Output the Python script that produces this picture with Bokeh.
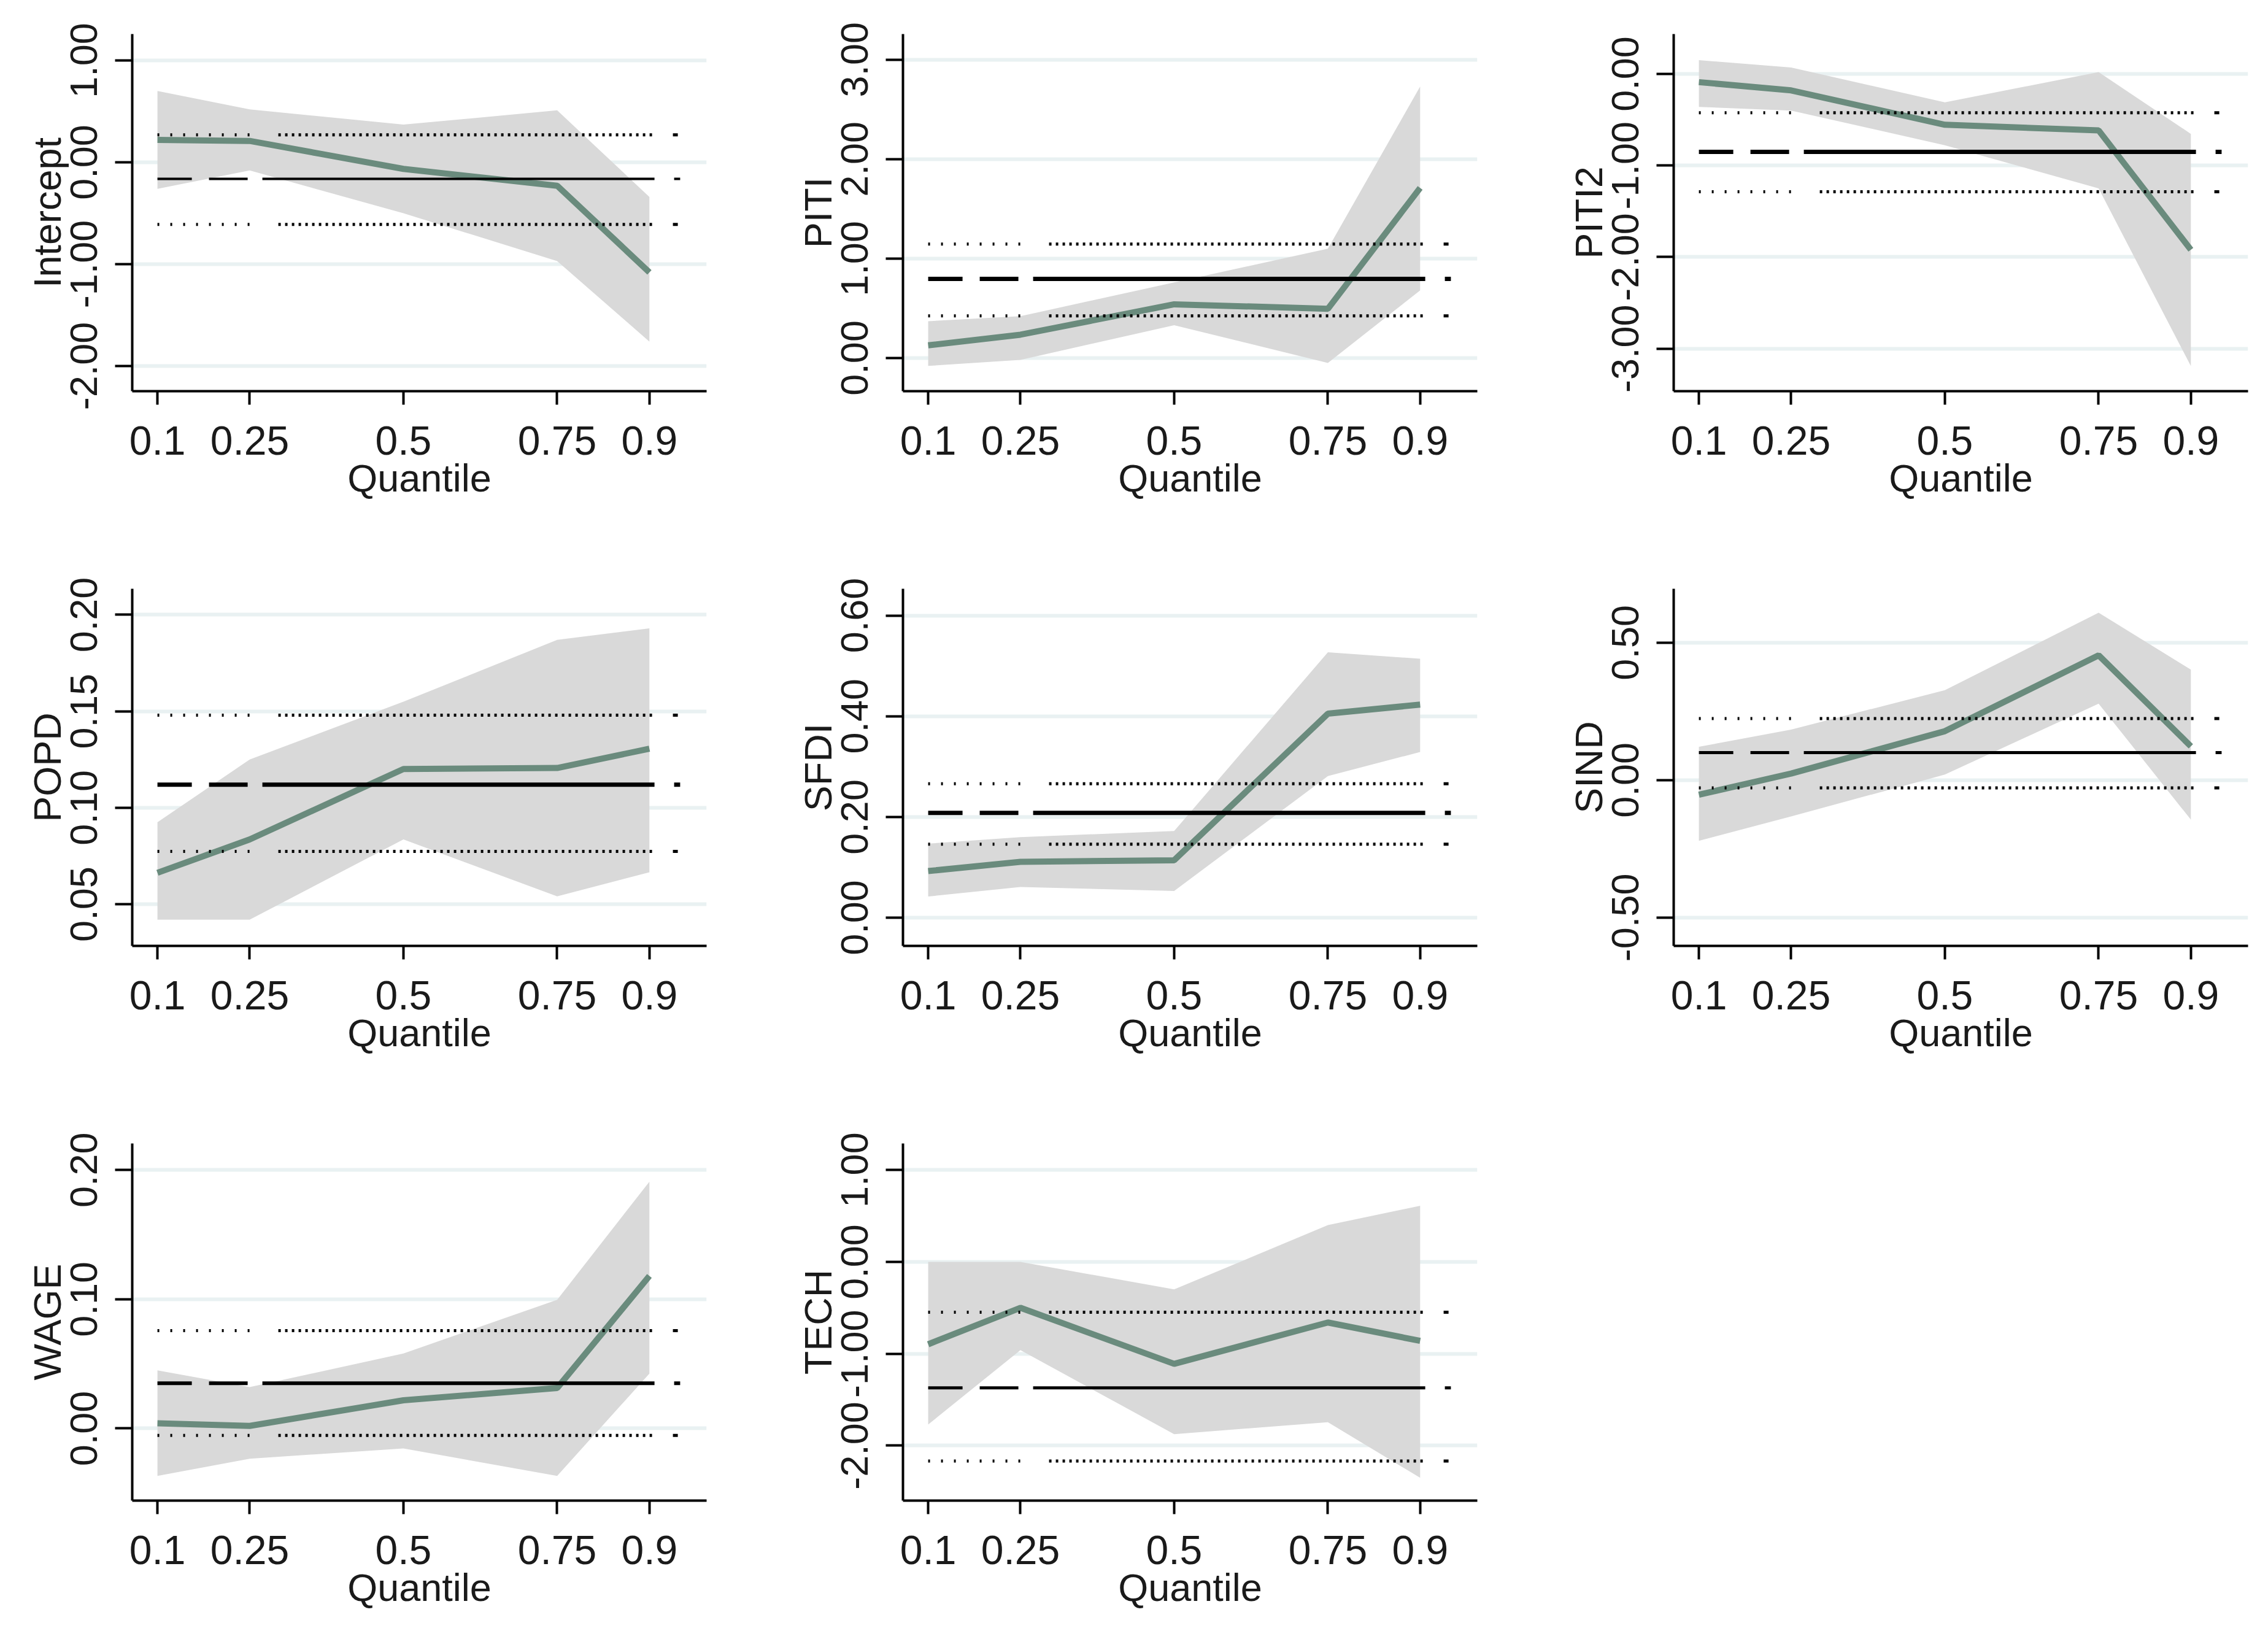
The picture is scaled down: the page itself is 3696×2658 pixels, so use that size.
from bokeh.plotting import figure
from bokeh.models import FixedTicker, NumeralTickFormatter, Range1d
from bokeh.layouts import gridplot
from bokeh.embed import file_html
from bokeh.resources import INLINE

# ---------------- data ----------------
quantiles = [0.1, 0.25, 0.5, 0.75, 0.9]
quantile_labels = ["0.1", "0.25", "0.5", "0.75", "0.9"]
ols_span = [0.1, 0.95]

intercept_qr = [0.22, 0.21, -0.065, -0.23, -1.08]
intercept_lo = [-0.26, -0.08, -0.50, -0.97, -1.76]
intercept_hi = [0.70, 0.52, 0.37, 0.51, -0.34]
intercept_ols = [-0.163, -0.61, 0.27]  # estimate, lower, upper

piti_qr = [0.127, 0.234, 0.54, 0.495, 1.71]
piti_lo = [-0.08, -0.02, 0.33, -0.05, 0.68]
piti_hi = [0.37, 0.42, 0.76, 1.10, 2.73]
piti_ols = [0.795, 0.424, 1.146]

piti2_qr = [-0.09, -0.18, -0.555, -0.617, -1.92]
piti2_lo = [-0.36, -0.40, -0.78, -1.25, -3.19]
piti2_hi = [0.15, 0.07, -0.31, 0.02, -0.655]
piti2_ols = [-0.852, -1.287, -0.424]

popd_qr = [0.0663, 0.0836, 0.1201, 0.1206, 0.1306]
popd_lo = [0.042, 0.042, 0.0836, 0.0541, 0.0666]
popd_hi = [0.0925, 0.125, 0.155, 0.187, 0.193]
popd_ols = [0.112, 0.0774, 0.148]

sfdi_qr = [0.0926, 0.111, 0.114, 0.405, 0.423]
sfdi_lo = [0.042, 0.061, 0.053, 0.281, 0.329]
sfdi_hi = [0.147, 0.160, 0.172, 0.527, 0.514]
sfdi_ols = [0.208, 0.146, 0.266]

sind_qr = [-0.053, 0.024, 0.178, 0.454, 0.123]
sind_lo = [-0.221, -0.132, 0.02, 0.278, -0.144]
sind_hi = [0.121, 0.184, 0.327, 0.609, 0.402]
sind_ols = [0.10, -0.028, 0.224]

wage_qr = [0.004, 0.002, 0.0218, 0.0313, 0.118]
wage_lo = [-0.0367, -0.0234, -0.0154, -0.0367, 0.0425]
wage_hi = [0.045, 0.032, 0.058, 0.0996, 0.191]
wage_ols = [0.035, -0.0053, 0.0757]

tech_qr = [-0.897, -0.50, -1.11, -0.66, -0.86]
tech_lo = [-1.77, -0.96, -1.875, -1.745, -2.35]
tech_hi = [0.0, 0.0, -0.30, 0.40, 0.61]
tech_ols = [-1.371, -2.167, -0.549]

y_ranges = {
    "Intercept": (-2.247, 1.259), "PITI": (-0.334, 3.258), "PITI2": (-3.464, 0.435),
    "POPD": (0.0284, 0.2135), "SFDI": (-0.056, 0.653), "SIND": (-0.603, 0.696),
    "WAGE": (-0.0558, 0.2205), "TECH": (-2.598, 1.288),
}
y_ticks = {
    "Intercept": [-2, -1, 0, 1], "PITI": [0, 1, 2, 3], "PITI2": [-3, -2, -1, 0],
    "POPD": [0.05, 0.10, 0.15, 0.20], "SFDI": [0.0, 0.2, 0.4, 0.6], "SIND": [-0.5, 0.0, 0.5],
    "WAGE": [0.0, 0.1, 0.2], "TECH": [-2, -1, 0, 1],
}

# ---------------- style ----------------
FONT = "Liberation Sans"
TXT = "#1a1a1a"
BAND = "#d9d9d9"
GREEN = "#6a8b7d"
GRID = "#e9f1f2"

OLS_DASH = "56 28 63 24 639 32 12 600"
_dots = ["3 18"] * 7 + ["3 47"] + ["4 7"] * 56 + ["0 27", "8 600"]
DOT_DASH = " ".join(_dots)
ols_width = {"Intercept": 4, "PITI": 7, "PITI2": 7, "POPD": 7, "SFDI": 7,
             "SIND": 5, "WAGE": 6, "TECH": 5}

FRAME_W, FRAME_H, TOP = 936, 582, 55
ROW_H = 904


def make_panel(name, qr, lo, hi, ols, border_right, border_bottom):
    p = figure(frame_width=FRAME_W, frame_height=FRAME_H,
               x_range=Range1d(0.059, 0.993), y_range=Range1d(*y_ranges[name]),
               output_backend="svg", toolbar_location=None,
               min_border_left=215, min_border_right=border_right,
               min_border_top=TOP, min_border_bottom=border_bottom)
    p.outline_line_color = None
    p.background_fill_color = "white"
    p.border_fill_color = "white"

    p.xgrid.visible = False
    p.ygrid.ticker = FixedTicker(ticks=y_ticks[name])
    p.ygrid.grid_line_color = GRID
    p.ygrid.grid_line_width = 6

    p.varea(x=quantiles, y1=lo, y2=hi, fill_color=BAND, fill_alpha=1.0)
    p.line(quantiles, qr, line_color=GREEN, line_width=10)

    est, low, up = ols
    p.line(ols_span, [low, low], line_color="black", line_width=5, line_dash=DOT_DASH)
    p.line(ols_span, [up, up], line_color="black", line_width=5, line_dash=DOT_DASH)
    p.line(ols_span, [est, est], line_color="black", line_width=ols_width[name],
           line_dash=OLS_DASH)

    # x axis
    xa = p.xaxis[0]
    xa.ticker = FixedTicker(ticks=quantiles)
    xa.major_label_overrides = {q: s for q, s in zip(quantiles, quantile_labels)}
    xa.minor_tick_line_color = None
    xa.major_tick_in = 0
    xa.major_tick_out = 22
    xa.major_tick_line_width = 4
    xa.axis_line_width = 4
    xa.major_label_text_font = FONT
    xa.major_label_text_font_size = "66px"
    xa.major_label_text_color = TXT
    xa.major_label_standoff = 35
    xa.axis_label = "Quantile"
    xa.axis_label_text_font = FONT
    xa.axis_label_text_font_size = "63px"
    xa.axis_label_text_font_style = "normal"
    xa.axis_label_text_color = TXT
    xa.axis_label_standoff = 0

    # y axis
    ya = p.yaxis[0]
    ya.ticker = FixedTicker(ticks=y_ticks[name])
    ya.formatter = NumeralTickFormatter(format="0.00")
    ya.minor_tick_line_color = None
    ya.major_tick_in = 0
    ya.major_tick_out = 28
    ya.major_tick_line_width = 4
    ya.axis_line_width = 4
    ya.major_label_orientation = "vertical"
    ya.major_label_text_font = FONT
    ya.major_label_text_font_size = "63px"
    ya.major_label_text_color = TXT
    ya.major_label_standoff = 29
    ya.axis_label = name
    ya.axis_label_text_font = FONT
    ya.axis_label_text_font_size = "63px"
    ya.axis_label_text_font_style = "normal"
    ya.axis_label_text_color = TXT
    ya.axis_label_standoff = 1
    return p


B12 = ROW_H - TOP - FRAME_H
B3 = 2642 - 2 * ROW_H - TOP - FRAME_H

p1 = make_panel("Intercept", intercept_qr, intercept_lo, intercept_hi, intercept_ols, 105, B12)
p2 = make_panel("PITI", piti_qr, piti_lo, piti_hi, piti_ols, 105, B12)
p3 = make_panel("PITI2", piti2_qr, piti2_lo, piti2_hi, piti2_ols, 15, B12)
p4 = make_panel("POPD", popd_qr, popd_lo, popd_hi, popd_ols, 105, B12)
p5 = make_panel("SFDI", sfdi_qr, sfdi_lo, sfdi_hi, sfdi_ols, 105, B12)
p6 = make_panel("SIND", sind_qr, sind_lo, sind_hi, sind_ols, 15, B12)
p7 = make_panel("WAGE", wage_qr, wage_lo, wage_hi, wage_ols, 105, B3)
p8 = make_panel("TECH", tech_qr, tech_lo, tech_hi, tech_ols, 105, B3)

grid = gridplot([[p1, p2, p3], [p4, p5, p6], [p7, p8, None]], toolbar_location=None)

open("out.html", "w").write(file_html(grid, INLINE))
